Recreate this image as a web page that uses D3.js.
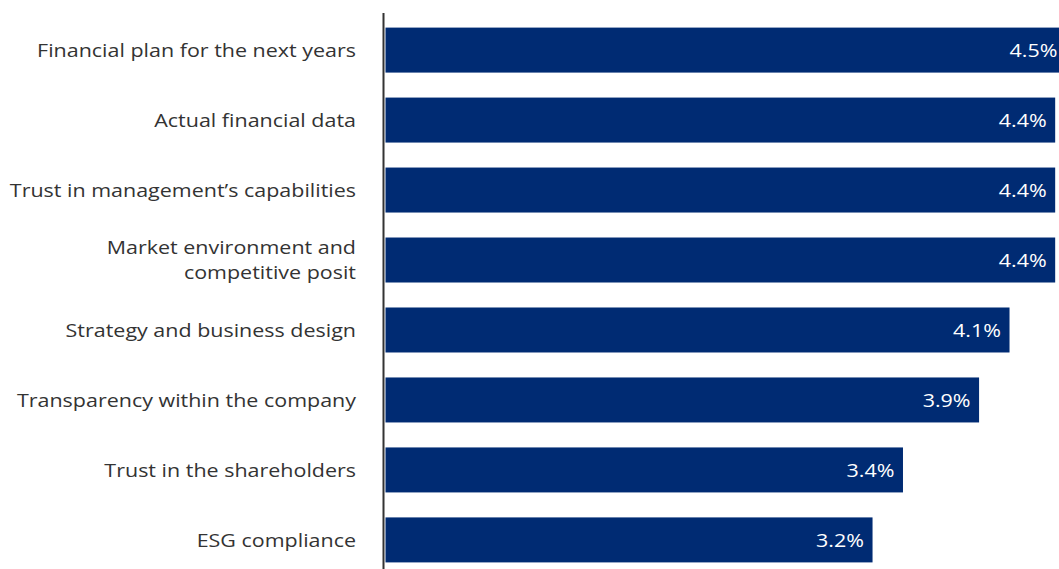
<!DOCTYPE html>
<html>
<head>
<meta charset="utf-8">
<script src="https://cdn.jsdelivr.net/npm/d3@7"></script>
<style>
  html, body { margin: 0; padding: 0; background: #fff; }
  svg { display: block; font-family: "Open Sans", "Noto Sans", sans-serif; }
</style>
</head>
<body>
<svg id="chart" width="1059" height="569"></svg>
<script>
// Decision factors and their average scores
const categories = [
  ["Financial plan for the next years"],
  ["Actual financial data"],
  ["Trust in management\u2019s capabilities"],
  ["Market environment and", "competitive posit"],
  ["Strategy and business design"],
  ["Transparency within the company"],
  ["Trust in the shareholders"],
  ["ESG compliance"]
];
const values = [4.5, 4.4, 4.4, 4.4, 4.1, 3.9, 3.4, 3.2];
const valueLabels = ["4.5%", "4.4%", "4.4%", "4.4%", "4.1%", "3.9%", "3.4%", "3.2%"];

const width = 1059, height = 569;
const stretch = 1.13; // glyphs are drawn slightly wide
const svg = d3.select("#chart");

const keys = categories.map((c, i) => i);
const y = d3.scaleBand().domain(keys).range([15, 575]).paddingInner(0.357).paddingOuter(0.18);
const x = d3.scaleLinear().domain([0, 4.5]).range([385.5, 385.5 + 4.5 * 152.2]);

// Bars
svg.append("g").selectAll("rect")
  .data(values)
  .join("rect")
  .attr("x", x(0))
  .attr("y", (d, i) => y(i))
  .attr("width", d => x(d) - x(0))
  .attr("height", y.bandwidth())
  .attr("fill", "#002B73");

// Value labels inside bar ends, kept within the drawing area
svg.append("g").selectAll("text")
  .data(values)
  .join("text")
  .attr("transform", (d, i) => `translate(${Math.min(x(d) - 8.5, width - 1.5)},${y(i) + y.bandwidth() / 2}) scale(${stretch},1)`)
  .attr("dy", "0.35em")
  .attr("text-anchor", "end")
  .attr("fill", "#fff")
  .attr("font-size", 19)
  .text((d, i) => valueLabels[i]);

// Category labels
const cat = svg.append("g").selectAll("text")
  .data(categories)
  .join("text")
  .attr("text-anchor", "end")
  .attr("fill", "#333")
  .attr("font-size", 19)
  .attr("transform", (d, i) => `translate(356,${y(i) + y.bandwidth() / 2}) scale(${stretch},1)`);
cat.selectAll("tspan")
  .data(d => d.map((t, j) => ({ t, j, n: d.length })))
  .join("tspan")
  .attr("x", 0)
  .attr("dy", d => d.j === 0 ? (0.35 - (d.n - 1) * 0.65) + "em" : "1.3em")
  .text(d => d.t);

// Vertical baseline axis
svg.append("line")
  .attr("x1", 383.5).attr("x2", 383.5)
  .attr("y1", 13).attr("y2", height)
  .attr("stroke", "#333")
  .attr("stroke-width", 2);
</script>
</body>
</html>
